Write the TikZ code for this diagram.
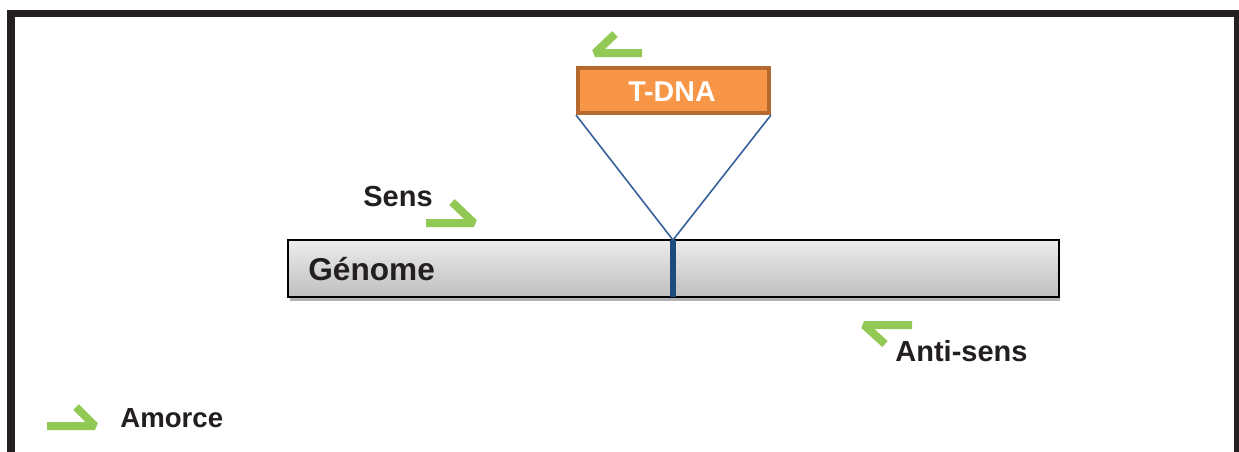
\documentclass[tikz,border=0pt]{standalone}
\usepackage{fontspec}
\setmainfont{Liberation Sans}
\definecolor{framegray}{HTML}{231F20}
\definecolor{primergreen}{HTML}{92C955}
\definecolor{tdnaorange}{HTML}{F79646}
\definecolor{tdnabrown}{HTML}{B5692F}
\definecolor{insertblue}{HTML}{1F4A7C}
\definecolor{armblue}{HTML}{36609A}
\tikzset{
  lbl/.style = {inner sep=0pt, text=framegray,
    font=\fontsize{14.5}{17}\selectfont\bfseries},% etiquettes
  genome_bar/.style = {rectangle, draw=black, line width=1pt,
    top color=gray!15, bottom color=gray!50,
    minimum width=385.5pt, minimum height=28.5pt, inner sep=0pt},
  tdna_box/.style = {rectangle, draw=tdnabrown, fill=tdnaorange, line width=2pt,
    minimum width=95.5pt, minimum height=22.5pt, inner sep=0pt},
  primer/.style = {draw=primergreen, line width=4pt, line join=bevel},% amorce
  arm/.style = {draw=armblue, line width=0.8pt}
}
\begin{document}
\begin{tikzpicture}[x=0.5pt,y=-0.5pt]
\useasboundingbox (0,0) rectangle (1239,451);
% cadre
\draw[framegray, line width=3.7pt] (11,460) -- (11,13.5) -- (1238,13.5) -- (1238,460);
% genome
\fill[gray!60] (290,297) rectangle (1060,301);
\node[genome_bar] (genome) at (673.5,268.5) {};
\node[lbl, anchor=base west, font=\fontsize{15.8}{18}\selectfont\bfseries] (genome_txt) at (308,280) {Génome};
\coordinate (ins_top) at (673,240);
\coordinate (ins_bot) at (673,297);
\draw[insertblue, line width=3pt] (ins_top) -- (ins_bot);
% T-DNA
\node[tdna_box] (tdna) at (673.5,90.5) {};
\node[lbl, anchor=base, text=white, font=\fontsize{14.3}{17}\selectfont\bfseries] (tdna_txt) at (672,101) {T-DNA};
\draw[arm] (tdna.south west) -- (ins_top) -- (tdna.south east);
% amorces
\draw[primer] (642,53) -- (595,53) -- (615,34);
\draw[primer] (426,223) -- (474,223) -- (452,202);
\node[lbl, anchor=base west] (sens) at (363,206) {Sens};
\draw[primer] (912,325) -- (864,325) -- (885,344);
\node[lbl, anchor=base west] (antisens) at (895,361) {Anti-sens};
% legende
\draw[primer] (47,426) -- (95,426) -- (76,407);
\node[lbl, anchor=base west, font=\fontsize{13.8}{16}\selectfont\bfseries] (amorce) at (120,427) {Amorce};
\end{tikzpicture}
\end{document}
